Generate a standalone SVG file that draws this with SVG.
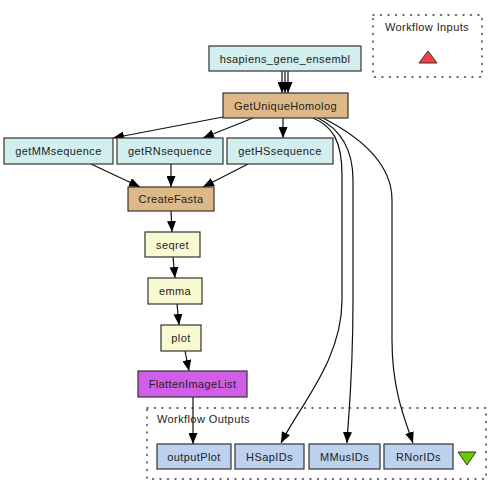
<svg xmlns="http://www.w3.org/2000/svg" width="500" height="495" viewBox="0 0 500 495">
<style>
text{font-family:"Liberation Sans",Arial,sans-serif;font-size:11px;letter-spacing:0.4px;fill:#222;text-anchor:middle;dominant-baseline:central}
.box rect{stroke:#333;stroke-width:1.2}
.cyan{fill:#d2eeee}
.tan{fill:#deb887}
.yel{fill:#fafad2}
.mag{fill:#d05ee8}
.out{fill:#bcd2ee}
.cluster{fill:none;stroke:#333;stroke-width:1.4;stroke-dasharray:1 6.5;stroke-linecap:round}
#edges path{fill:none;stroke:#111;stroke-width:1.2}
.title{text-anchor:start}
</style>
<defs>
<marker id="ah" markerUnits="userSpaceOnUse" markerWidth="11" markerHeight="9" refX="11" refY="4.5" orient="auto">
<path d="M0,0 L11,4.5 L0,9 z" fill="#000"/>
</marker>
</defs>
<rect width="500" height="495" fill="#fff"/>
<g id="workflow-inputs">
<rect class="cluster" x="373" y="15" width="109" height="62"/>
<text x="427" y="27">Workflow Inputs</text>
<polygon points="419,63 437,63 428,51" fill="#f04040" stroke="#333" stroke-width="1"/>
</g>
<g id="workflow-outputs">
<rect class="cluster" x="147" y="408" width="339" height="71"/>
<text class="title" x="157" y="419">Workflow Outputs</text>
<polygon points="458,452 476,452 467,465" fill="#66cc00" stroke="#333" stroke-width="1"/>
</g>
<g id="edges">
<path d="M282,71 L282,93" marker-end="url(#ah)"/>
<path d="M285,71 L285,93" marker-end="url(#ah)"/>
<path d="M288,71 L288,93" marker-end="url(#ah)"/>
<path d="M223,117 L113,138" marker-end="url(#ah)"/>
<path d="M253,118 L203,138" marker-end="url(#ah)"/>
<path d="M283,118 L283,138" marker-end="url(#ah)"/>
<path d="M91,164 L140,187" marker-end="url(#ah)"/>
<path d="M171,164 L171,187" marker-end="url(#ah)"/>
<path d="M248,164 L203,187" marker-end="url(#ah)"/>
<path d="M171,211 L172,232" marker-end="url(#ah)"/>
<path d="M173,257 L175,278" marker-end="url(#ah)"/>
<path d="M177,304 L179,325" marker-end="url(#ah)"/>
<path d="M185,351 L189,371" marker-end="url(#ah)"/>
<path d="M193,397 L193,444" marker-end="url(#ah)"/>
<path d="M313,118 C332,126 342,140 342,175 L342,300 C342,360 300,405 281,443" marker-end="url(#ah)"/>
<path d="M318,118 C342,130 353,150 353,180 L353,300 C353,380 348,420 347,443" marker-end="url(#ah)"/>
<path d="M323,118 C362,138 392,165 392,200 L392,340 C392,390 405,420 413,443" marker-end="url(#ah)"/>
</g>
<g id="hsapiens_gene_ensembl" class="box"><rect class="cyan" x="209" y="46" width="152" height="25"/><text x="285" y="58.5">hsapiens_gene_ensembl</text></g>
<g id="GetUniqueHomolog" class="box"><rect class="tan" x="223" y="93" width="125" height="25"/><text x="285.5" y="105.5">GetUniqueHomolog</text></g>
<g id="getMMsequence" class="box"><rect class="cyan" x="4" y="138" width="109" height="26"/><text x="58.5" y="151">getMMsequence</text></g>
<g id="getRNsequence" class="box"><rect class="cyan" x="117" y="138" width="106" height="26"/><text x="170" y="151">getRNsequence</text></g>
<g id="getHSsequence" class="box"><rect class="cyan" x="227" y="138" width="106" height="26"/><text x="280" y="151">getHSsequence</text></g>
<g id="CreateFasta" class="box"><rect class="tan" x="128" y="187" width="86" height="24"/><text x="171" y="199">CreateFasta</text></g>
<g id="seqret" class="box"><rect class="yel" x="145" y="232" width="55" height="25"/><text x="172.5" y="244.5">seqret</text></g>
<g id="emma" class="box"><rect class="yel" x="148" y="278" width="54" height="26"/><text x="175" y="291">emma</text></g>
<g id="plot" class="box"><rect class="yel" x="161" y="325" width="40" height="26"/><text x="181" y="338">plot</text></g>
<g id="FlattenImageList" class="box"><rect class="mag" x="138" y="371" width="109" height="26"/><text x="192.5" y="384">FlattenImageList</text></g>
<g id="outputPlot" class="box"><rect class="out" x="157" y="444" width="74" height="25"/><text x="194" y="456.5">outputPlot</text></g>
<g id="HSapIDs" class="box"><rect class="out" x="235" y="444" width="69" height="25"/><text x="269.5" y="456.5">HSapIDs</text></g>
<g id="MMusIDs" class="box"><rect class="out" x="309" y="444" width="71" height="25"/><text x="344.5" y="456.5">MMusIDs</text></g>
<g id="RNorIDs" class="box"><rect class="out" x="384" y="444" width="69" height="25"/><text x="418.5" y="456.5">RNorIDs</text></g>
</svg>
